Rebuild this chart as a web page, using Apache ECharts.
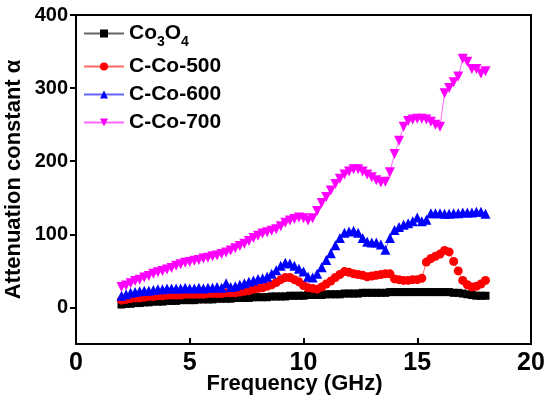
<!DOCTYPE html>
<html>
<head>
<meta charset="utf-8">
<script src="https://cdn.jsdelivr.net/npm/echarts@6/dist/echarts.min.js"></script>
<style>html,body{margin:0;padding:0;background:#fff}#c{width:550px;height:399px}</style>
</head>
<body>
<div id="c"></div>
<script>
var seriesNames = ['Co3O4', 'C-Co-500', 'C-Co-600', 'C-Co-700'];
var freq = [2.0,2.2,2.4,2.6,2.8,3.0,3.2,3.4,3.6,3.8,4.0,4.2,4.4,4.6,4.8,5.0,5.2,5.4,5.6,5.8,
  6.0,6.2,6.4,6.6,6.8,7.0,7.2,7.4,7.6,7.8,8.0,8.2,8.4,8.6,8.8,9.0,9.2,9.4,9.6,9.8,
  10.0,10.2,10.4,10.6,10.8,11.0,11.2,11.4,11.6,11.8,12.0,12.2,12.4,12.6,12.8,13.0,13.2,13.4,13.6,13.8,
  14.0,14.2,14.4,14.6,14.8,15.0,15.2,15.4,15.6,15.8,16.0,16.2,16.4,16.6,16.8,17.0,17.2,17.4,17.6,17.8,18.0];
var co3o4 = [4,5,5,6,6,7,7,8,8,8,9,9,9,10,10,10,10,11,11,11,
  11,12,12,12,12,13,13,13,13,14,14,14,14,15,15,15,15,16,16,16,
  16,17,17,17,17,18,18,18,18,19,19,19,19,20,20,20,20,20,20,21,
  21,21,21,21,21,21,21,21,21,21,21,21,21,20,20,19,18,17,16,16,16];
var cco500 = [10,11,12,13,13,14,15,15,16,16,17,17,17,17,18,18,18,18,18,19,
  19,19,19,20,20,20,21,22,23,25,26,27,29,31,34,38,41,41,38,35,
  30,27,26,25,28,32,36,41,45,49,48,46,45,44,42,43,44,45,46,46,
  39,38,37,37,38,38,40,62,67,70,73,78,76,63,50,37,31,28,29,32,37];
var cco600 = [16,18,20,21,22,23,23,24,25,25,26,26,26,26,27,26,26,27,26,27,
  27,28,27,33,28,29,31,33,35,37,39,40,42,46,51,57,61,60,57,53,
  49,42,41,46,55,65,74,85,95,102,104,105,102,95,90,89,89,86,79,95,
  106,110,113,115,118,123,118,120,129,129,129,128,128,129,129,130,130,130,131,131,128];
var cco700 = [28,30,33,36,38,41,43,46,48,50,52,54,57,59,61,62,64,65,67,68,
  70,71,73,75,78,81,84,87,91,95,98,101,103,105,107,111,116,119,121,123,
  122,119,122,132,143,151,160,169,176,182,186,189,189,186,182,178,174,171,172,185,
  210,228,247,255,257,258,258,257,254,250,247,293,300,308,316,340,336,326,326,320,323];
var xTicks = [0, 5, 10, 15, 20];
var yTicks = [0, 100, 200, 300, 400];

function pairs(vals) { return freq.map(function (f, i) { return [f, vals[i]]; }); }

var FONT = 'Liberation Sans';
var colors = ['#000000', '#ff0000', '#0000ff', '#ff00ff'];
var symbols = ['rect', 'circle', 'triangle', 'triangle'];
var sizes = [8, 9, 10, 10];
var rotates = [0, 0, 0, 180];
var values = [co3o4, cco500, cco600, cco700];

var series = seriesNames.map(function (n, k) {
  return {
    name: n, type: 'line', data: pairs(values[k]),
    symbol: symbols[k], symbolSize: sizes[k], symbolRotate: rotates[k],
    showAllSymbol: true,
    itemStyle: { color: colors[k] },
    lineStyle: { color: colors[k], width: 1, opacity: 0.6 },
    z: 2 + k
  };
});

var chart = echarts.init(document.getElementById('c'));
chart.setOption({
  animation: false,
  backgroundColor: '#fff',
  grid: { left: 76, right: 19, top: 15, bottom: 55, show: true, borderColor: '#000', borderWidth: 2,
          containLabel: false, outerBoundsMode: 'none' },
  legend: {
    orient: 'vertical', left: 83, top: 23, padding: 0, itemWidth: 40, itemHeight: 10, itemGap: 7,
    data: seriesNames,
    formatter: function (n) { return n === 'Co3O4' ? '{b|Co}{s|3}{b|O}{s|4}' : '{a|' + n + '}'; },
    textStyle: {
      fontFamily: FONT, fontWeight: 'bold', fontSize: 21, color: '#000',
      rich: {
        a: { fontFamily: FONT, fontWeight: 'bold', fontSize: 21, color: '#000' },
        b: { fontFamily: FONT, fontWeight: 'bold', fontSize: 21, color: '#000', lineHeight: 35 },
        s: { fontFamily: FONT, fontWeight: 'bold', fontSize: 14, color: '#000', padding: [17, 0, 0, 0] }
      }
    }
  },
  xAxis: {
    type: 'value', min: 0, max: 20, interval: 5,
    name: 'Frequency (GHz)', nameLocation: 'middle', nameGap: 29, nameMoveOverlap: false,
    nameTextStyle: { fontFamily: FONT, fontWeight: 'bold', fontSize: 22, color: '#000', padding: [0, 18, 0, 0] },
    axisLine: { onZero: false, lineStyle: { color: '#000', width: 2 } },
    axisTick: { inside: true, length: 6, lineStyle: { color: '#000', width: 2 }, customValues: xTicks },
    axisLabel: { fontFamily: FONT, fontWeight: 'bold', fontSize: 25, color: '#000', margin: 7, customValues: xTicks },
    splitLine: { show: false }
  },
  yAxis: {
    type: 'value', min: -50, max: 400, interval: 50,
    name: 'Attenuation constant α', nameLocation: 'middle', nameGap: 51, nameMoveOverlap: false,
    nameTextStyle: { fontFamily: FONT, fontWeight: 'bold', fontSize: 22, color: '#000' },
    axisLine: { lineStyle: { color: '#000', width: 2 } },
    axisTick: { inside: false, length: 6, lineStyle: { color: '#000', width: 2 }, customValues: yTicks },
    axisLabel: { fontFamily: FONT, fontWeight: 'bold', fontSize: 20, color: '#000', margin: 8, customValues: yTicks },
    splitLine: { show: false }
  },
  series: series
});
</script>
</body>
</html>
